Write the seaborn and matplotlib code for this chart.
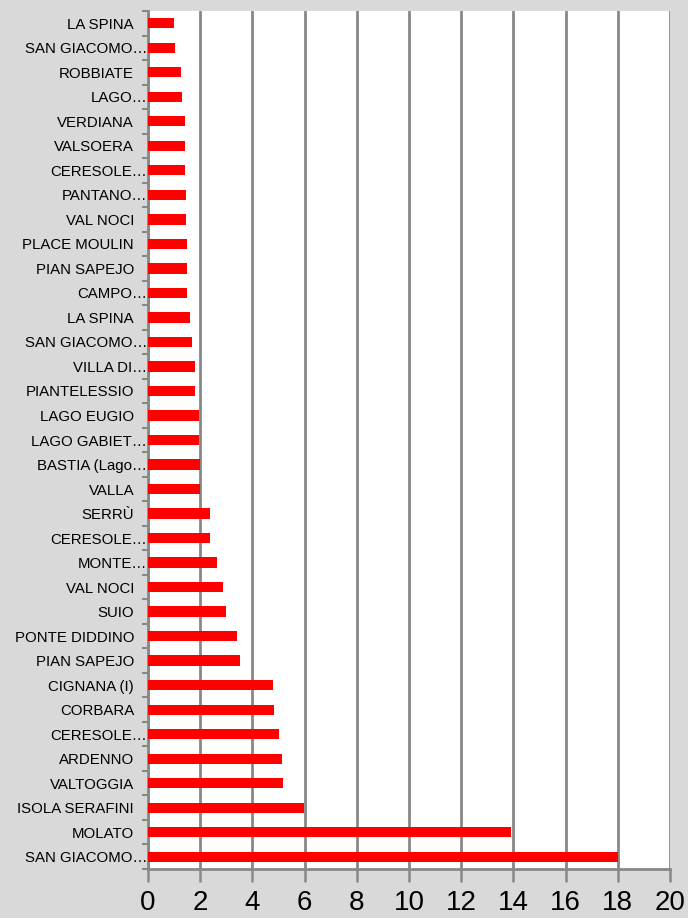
import matplotlib
matplotlib.use("Agg")
import matplotlib.pyplot as plt
import matplotlib.transforms as mtransforms
import seaborn as sns
import pandas as pd
import numpy as np

names = ["LA SPINA", "SAN GIACOMO…", "ROBBIATE", "LAGO…", "VERDIANA", "VALSOERA",
         "CERESOLE…", "PANTANO…", "VAL NOCI", "PLACE MOULIN", "PIAN SAPEJO", "CAMPO…",
         "LA SPINA", "SAN GIACOMO…", "VILLA DI…", "PIANTELESSIO", "LAGO EUGIO",
         "LAGO GABIET…", "BASTIA (Lago…", "VALLA", "SERRÙ", "CERESOLE…", "MONTE…",
         "VAL NOCI", "SUIO", "PONTE DIDDINO", "PIAN SAPEJO", "CIGNANA (I)", "CORBARA",
         "CERESOLE…", "ARDENNO", "VALTOGGIA", "ISOLA SERAFINI", "MOLATO", "SAN GIACOMO…"]
values = [0.99, 1.02, 1.26, 1.30, 1.40, 1.40, 1.40, 1.44, 1.44, 1.50, 1.50, 1.50,
          1.60, 1.69, 1.81, 1.81, 1.95, 1.95, 1.98, 2.01, 2.38, 2.38, 2.63, 2.86,
          3.00, 3.41, 3.51, 4.78, 4.81, 5.01, 5.12, 5.19, 5.99, 13.9, 18.0]
xticks = [0, 2, 4, 6, 8, 10, 12, 14, 16, 18, 20]

df = pd.DataFrame({"key": [str(i) for i in range(len(names))], "name": names, "value": values})

sns.set_theme(style="white")
plt.rcParams['font.family'] = ['Liberation Sans', 'DejaVu Sans']

fig = plt.figure(figsize=(6.88, 9.18), dpi=100, facecolor="#d9d9d9")
ax = fig.add_axes([148/688, 1 - 869/918, (670 - 148)/688, (869 - 11)/918])
ax.set_facecolor("white")

sns.barplot(data=df, x="value", y="key", order=list(df["key"]), orient="h",
            color="#ff0000", saturation=1, width=0.42, linewidth=0, ax=ax, zorder=3)

ax.set_xlim(0, 20)
ax.set_ylim(len(names) - 0.5, -0.5)
ax.set_xticks(xticks)
ax.set_xticklabels([str(t) for t in xticks], fontsize=20, color="black")
ax.set_yticks(range(len(names)))
ax.set_yticklabels(names, fontsize=10.8, color="black")
ax.set_yticks(np.arange(-0.5, len(names), 1), minor=True)
ax.tick_params(axis="y", which="major", length=0, pad=10)
ax.tick_params(axis="y", which="minor", length=4, width=1.5, color="#888888", left=True)
ax.tick_params(axis="x", which="major", length=9, width=1.8, color="#888888", bottom=True, pad=6)
ax.xaxis.grid(True, color="#888888", linewidth=2, zorder=0)
ax.yaxis.grid(False)
ax.set_axisbelow(True)
for s in ["top", "right"]:
    ax.spines[s].set_visible(False)
for s in ["left", "bottom"]:
    ax.spines[s].set_color("#888888")
    ax.spines[s].set_linewidth(2)
ax.set_xlabel("")
ax.set_ylabel("")

# truncated labels overflow to the right like in the original
shift = mtransforms.ScaledTranslation(13/100, 0, fig.dpi_scale_trans)
for lab in ax.get_yticklabels():
    if lab.get_text().endswith("…"):
        lab.set_transform(lab.get_transform() + shift)

fig.savefig("out.png", dpi=100, facecolor=fig.get_facecolor())
